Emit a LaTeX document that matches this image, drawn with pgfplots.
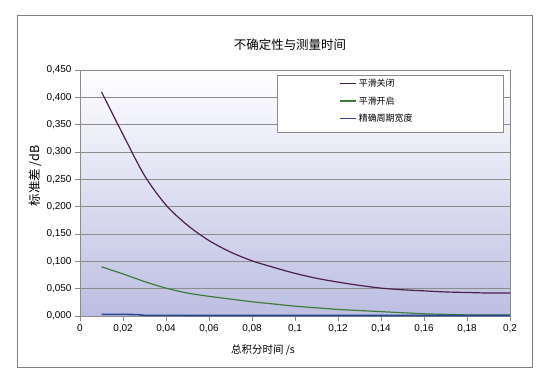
\documentclass[border=0pt]{standalone}
\usepackage{fontspec}
\usepackage{pgfplots}
\pgfplotsset{compat=1.18}
\setmainfont{Liberation Sans}
\newfontfamily\cjk{Noto Sans CJK SC}
\definecolor{cpurple}{RGB}{75,30,80}
\definecolor{cgreen}{RGB}{60,125,60}
\definecolor{cblue}{RGB}{40,70,140}
\definecolor{bgbot}{RGB}{188,190,226}
\definecolor{gridc}{RGB}{140,140,140}
\definecolor{framec}{RGB}{128,128,128}
\begin{document}
\begin{tikzpicture}[x=1bp,y=1bp]
\useasboundingbox[fill=white] (0,0) rectangle (550,387);
\draw[framec, line width=0.9bp] (17,20) rectangle (532,372);
\begin{axis}[
  at={(80bp,71bp)}, anchor=south west,
  scale only axis, width=430bp, height=246bp,
  xmin=0, xmax=0.2, ymin=0, ymax=0.45,
  xtick={0,0.02,...,0.2001}, ytick={0,0.05,...,0.4501},
  axis background/.style={shade, top color=white, bottom color=bgbot},
  axis line style={gridc, line width=0.8bp},
  ymajorgrids, grid style={gridc, line width=0.6bp},
  tick pos=left, tick align=outside, major tick length=5bp,
  tick style={gridc, line width=0.6bp},
  ticklabel style={font=\fontsize{10}{12}\selectfont},
  /pgf/number format/assume math mode=true,
  /pgf/number format/use comma,
  yticklabel style={/pgf/number format/fixed, /pgf/number format/fixed zerofill, /pgf/number format/precision=3},
  xticklabel style={/pgf/number format/fixed, /pgf/number format/precision=2},
  scaled ticks=false,
  legend style={at={(rel axis cs:0.6,0.975)}, anchor=north west, draw=none, fill=none,
    font=\cjk\fontsize{9}{10}\selectfont, row sep=4.5bp, inner sep=1bp},
  legend cell align=left,
  legend image code/.code={\draw[#1, line width=1.6bp] (0bp,0.5bp) -- (16bp,0.5bp);},
]
\draw[gridc, fill=white, line width=0.6bp] (rel axis cs:0.458,0.748) rectangle (rel axis cs:0.984,0.98);
\addplot[cpurple, line width=1.2bp, smooth] coordinates {
(0.01,0.410) (0.02,0.332) (0.03,0.257) (0.04,0.203) (0.05,0.166) (0.06,0.138)
(0.07,0.117) (0.08,0.101) (0.09,0.089) (0.10,0.078) (0.11,0.069) (0.12,0.062)
(0.13,0.056) (0.14,0.051) (0.15,0.048) (0.16,0.046) (0.17,0.044) (0.18,0.043)
(0.19,0.042) (0.20,0.042)};
\addlegendentry{平滑关闭}
\addplot[cgreen, line width=1.2bp, smooth] coordinates {
(0.01,0.090) (0.02,0.077) (0.03,0.063) (0.04,0.051) (0.05,0.042) (0.06,0.036)
(0.07,0.031) (0.08,0.026) (0.09,0.022) (0.10,0.018) (0.11,0.015) (0.12,0.012)
(0.13,0.010) (0.14,0.008) (0.15,0.006) (0.16,0.004) (0.17,0.003) (0.18,0.002)
(0.19,0.002) (0.20,0.002)};
\addlegendentry{平滑开启}
\addplot[cblue, line width=1.6bp] coordinates {
(0.01,0.003) (0.02,0.003) (0.027,0.0025) (0.03,0.0012) (0.05,0.001) (0.1,0.001)
(0.15,0.001) (0.2,0.001)};
\addlegendentry{精确周期宽度}
\end{axis}
\node[font=\cjk\fontsize{12.5}{14}\selectfont] at (290,342) {不确定性与测量时间};
\node[font=\cjk\fontsize{10.5}{12}\selectfont] at (263,37) {总积分时间 /s};
\node[font=\cjk\fontsize{12.5}{14}\selectfont, rotate=90] at (35,211) {标准差 /dB};
\end{tikzpicture}
\end{document}
